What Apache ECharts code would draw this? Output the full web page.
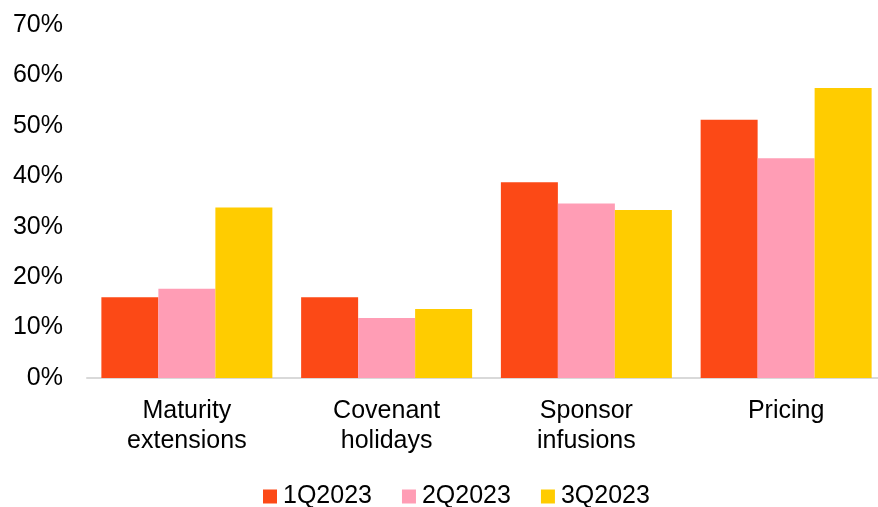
<!DOCTYPE html>
<html>
<head>
<meta charset="utf-8">
<script src="https://cdn.jsdelivr.net/npm/echarts@6/dist/echarts.min.js"></script>
<style>
  html, body { margin: 0; padding: 0; background: #ffffff; }
  #chart { width: 878px; height: 507px; }
</style>
</head>
<body>
<div id="chart"></div>
<script>
// Categories and quarterly shares (percent)
const categories = ['Maturity\nextensions', 'Covenant\nholidays', 'Sponsor\ninfusions', 'Pricing'];
const q1 = [16.0, 16.0, 38.8, 51.2];
const q2 = [17.7, 11.9, 34.6, 43.6];
const q3 = [33.8, 13.7, 33.3, 57.5];
const seriesNames = ['1Q2023', '2Q2023', '3Q2023'];
const yTicks = [0, 10, 20, 30, 40, 50, 60, 70];

const colors = ['#FC4916', '#FF9DB5', '#FFCC00'];
const font = 'Arial, "Liberation Sans", sans-serif';

const chart = echarts.init(document.getElementById('chart'), null, { renderer: 'canvas' });

const seriesData = [q1, q2, q3];

chart.setOption({
  animation: false,
  color: colors,
  textStyle: { fontFamily: font },
  // plot area runs slightly past the right edge of the canvas
  grid: {
    left: 87, width: 799, top: 25, height: 353,
    containLabel: false,
    outerBoundsMode: 'none'
  },
  legend: {
    data: seriesNames,
    left: 263,
    top: 484,
    padding: 0,
    itemWidth: 14,
    itemHeight: 14,
    itemGap: 30,
    icon: 'rect',
    textStyle: { fontSize: 25, color: '#000000', fontFamily: font, padding: [0, 0, 0, 1] }
  },
  xAxis: {
    type: 'category',
    data: categories,
    axisLine: { show: true, lineStyle: { color: '#D9D9D9', width: 2 } },
    axisTick: { show: false },
    axisLabel: {
      color: '#000000',
      fontSize: 25,
      lineHeight: 30,
      margin: 18,
      fontFamily: font,
      interval: 0
    }
  },
  yAxis: {
    type: 'value',
    min: yTicks[0],
    max: yTicks[yTicks.length - 1],
    interval: 10,
    splitLine: { show: false },
    axisLine: { show: false },
    axisTick: { show: false },
    axisLabel: {
      color: '#000000',
      fontSize: 25,
      margin: 24,
      fontFamily: font,
      formatter: v => v + '%'
    }
  },
  series: seriesNames.map((name, i) => ({
    name: name,
    type: 'bar',
    data: seriesData[i],
    barGap: '0%',
    barCategoryGap: '14.4%',
    itemStyle: { color: colors[i] }
  }))
});
</script>
</body>
</html>
